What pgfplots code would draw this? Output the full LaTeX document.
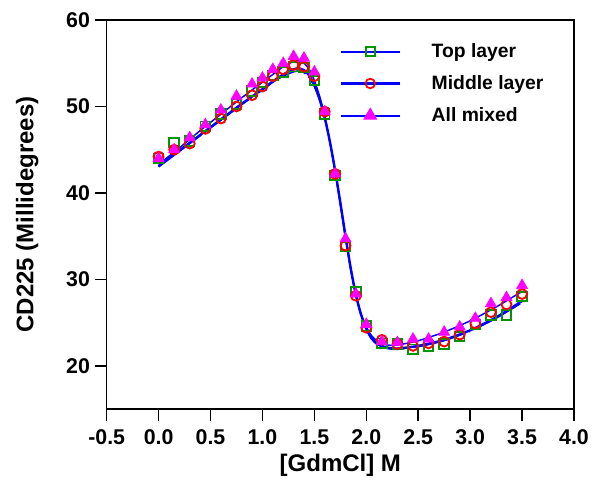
\documentclass[border=0pt]{standalone}
\usepackage{fontspec}
\setmainfont{Liberation Sans}
\usepackage{pgfplots}
\pgfplotsset{compat=1.18}
\definecolor{mgreen}{RGB}{0,150,0}
\definecolor{mred}{RGB}{255,0,0}
\definecolor{mmag}{RGB}{255,0,255}
\definecolor{mblue}{RGB}{0,0,255}
\begin{document}
\begin{tikzpicture}
\begin{axis}[
 width=350.5pt, height=291.75pt, scale only axis,
 xmin=-0.5, xmax=4.0, ymin=15, ymax=60,
 xtick={-0.5,0,0.5,1,1.5,2,2.5,3,3.5,4},
 xticklabels={-0.5,0.0,0.5,1.0,1.5,2.0,2.5,3.0,3.5,4.0},
 ytick={20,30,40,50,60}, yticklabels={20,30,40,50,60},
 tick align=outside, xtick pos=bottom, ytick pos=left,
 major tick length=9pt,
 axis line style={line width=1.1pt}, tick style={line width=1.1pt, black},
 tick label style={font=\fontsize{16}{18}\selectfont\bfseries},
 xticklabel style={yshift=-3pt},
 label style={font=\fontsize{18}{20}\selectfont\bfseries},
 xlabel={{[}GdmCl] M}, ylabel={CD225 (Millidegrees)},
 xlabel style={at={(axis description cs:0.5,-0.144)}, anchor=center},
 ylabel style={at={(axis description cs:-0.17,0.5)}, anchor=center},
 legend style={at={(rel axis cs:0.489,0.954)}, anchor=north west, draw=none, fill=none,
   font=\fontsize{14.5}{16}\selectfont\bfseries, row sep=8pt, column sep=21pt},
 legend cell align=left,
 legend image code/.code={%
   \draw[#1, mark=none, draw=mblue, color=mblue] (0pt,0pt) -- (44pt,0pt);
   \path[#1, draw=none, fill=none] plot coordinates {(22pt,0pt)};},
]
\coordinate (o) at (rel axis cs:0,0);
\coordinate (t) at (rel axis cs:1,1);
% data: top layer
\addplot[forget plot, only marks, mark=square, mark size=3.6pt, mgreen, line width=1.4pt] coordinates {
(0,44.0) (0.15,45.8) (0.3,46.0) (0.45,47.7) (0.6,49.1) (0.75,50.3) (0.9,51.8) (1.0,52.8) (1.1,53.6) (1.2,54.0) (1.3,54.6) (1.4,54.5) (1.5,53.0) (1.6,49.1) (1.7,42.0) (1.8,33.8) (1.9,28.6) (2.0,24.6) (2.15,22.6) (2.3,22.5) (2.45,21.9) (2.6,22.3) (2.75,22.5) (2.9,23.4) (3.05,24.8) (3.2,25.9) (3.35,25.9) (3.5,28.0)};
% middle layer
\addplot[forget plot, only marks, mark=o, mark size=3.7pt, mred, line width=1.4pt] coordinates {
(0,44.2) (0.15,45.0) (0.3,45.7) (0.45,47.4) (0.6,48.6) (0.75,50.0) (0.9,51.3) (1.0,52.3) (1.1,53.5) (1.2,54.3) (1.3,54.8) (1.4,54.6) (1.5,53.5) (1.6,49.4) (1.7,42.2) (1.8,33.9) (1.9,28.1) (2.0,24.4) (2.15,23.0) (2.3,22.5) (2.45,22.3) (2.6,22.6) (2.75,22.8) (2.9,23.6) (3.05,24.9) (3.2,26.2) (3.35,27.1) (3.5,28.3)};
% all mixed
\addplot[forget plot, only marks, mark=triangle*, mark size=4.8pt, mmag] coordinates {
(0,44.0) (0.15,45.0) (0.3,46.4) (0.45,47.9) (0.6,49.6) (0.75,51.2) (0.9,52.6) (1.0,53.3) (1.1,54.3) (1.2,55.0) (1.3,55.8) (1.4,55.6) (1.5,54.0) (1.6,49.4) (1.7,42.2) (1.8,34.7) (1.9,28.3) (2.0,24.8) (2.15,22.8) (2.3,22.7) (2.45,23.1) (2.6,23.1) (2.75,23.9) (2.9,24.5) (3.05,25.5) (3.2,27.2) (3.35,27.9) (3.5,29.3)};
% fits
\addplot[forget plot, mblue, line width=1.1pt, smooth, tension=0.4, dash pattern=on 40pt off 3pt on 0.8pt off 3pt] coordinates {
(0,43.0) (0.2,44.8) (0.4,46.6) (0.6,48.4) (0.8,50.2) (1.0,51.9) (1.1,52.8) (1.2,53.5) (1.3,54.0) (1.35,54.1) (1.4,53.9) (1.45,53.3) (1.5,52.3) (1.55,50.7) (1.6,48.6) (1.65,45.8) (1.7,42.5) (1.75,38.8) (1.8,34.9) (1.85,31.2) (1.9,28.1) (1.95,25.8) (2.0,24.2) (2.05,23.1) (2.1,22.5) (2.15,22.2) (2.2,22.0) (2.3,21.9) (2.5,22.2) (2.75,22.9) (3.0,24.0) (3.25,25.5) (3.5,27.3)};
\addplot[forget plot, mblue, line width=1.8pt, smooth, tension=0.4] coordinates {
(0,43.1) (0.2,44.9) (0.4,46.7) (0.6,48.5) (0.8,50.3) (1.0,52.0) (1.1,52.9) (1.2,53.7) (1.3,54.3) (1.35,54.4) (1.4,54.2) (1.45,53.6) (1.5,52.5) (1.55,50.9) (1.6,48.7) (1.65,45.9) (1.7,42.6) (1.75,38.9) (1.8,35.0) (1.85,31.3) (1.9,28.2) (1.95,25.9) (2.0,24.3) (2.05,23.2) (2.1,22.6) (2.15,22.3) (2.2,22.1) (2.3,22.0) (2.5,22.3) (2.75,23.0) (3.0,24.1) (3.25,25.6) (3.5,27.5)};
\addplot[forget plot, mblue, line width=1.1pt, smooth, tension=0.4] coordinates {
(0,43.3) (0.2,45.2) (0.4,47.2) (0.6,49.1) (0.8,51.0) (1.0,52.8) (1.1,53.7) (1.2,54.6) (1.3,55.2) (1.35,55.3) (1.4,55.0) (1.45,54.3) (1.5,53.0) (1.55,51.2) (1.6,48.9) (1.65,45.9) (1.7,42.4) (1.75,38.6) (1.8,34.7) (1.85,31.1) (1.9,28.2) (1.95,26.0) (2.0,24.5) (2.05,23.5) (2.1,22.9) (2.15,22.6) (2.2,22.4) (2.3,22.4) (2.5,22.9) (2.75,23.9) (3.0,25.2) (3.25,26.8) (3.5,28.6)};
\addlegendimage{line width=1.5pt, mark=square, mark size=3.4pt, mark options={draw=mgreen, fill=none, line width=1.3pt, solid}}
\addlegendentry{Top layer}
\addlegendimage{line width=2.2pt, mark=o, mark size=3.6pt, mark options={draw=mred, fill=none, line width=1.3pt}}
\addlegendentry{Middle layer}
\addlegendimage{line width=1.5pt, mark=triangle*, mark size=4.6pt, mark options={draw=mmag, fill=mmag}}
\addlegendentry{All mixed}
\end{axis}
\pgfresetboundingbox
\path[use as bounding box] ([xshift=-80pt,yshift=-60.75pt]o) rectangle ([xshift=13.5pt,yshift=15pt]t);
\end{tikzpicture}
\end{document}
